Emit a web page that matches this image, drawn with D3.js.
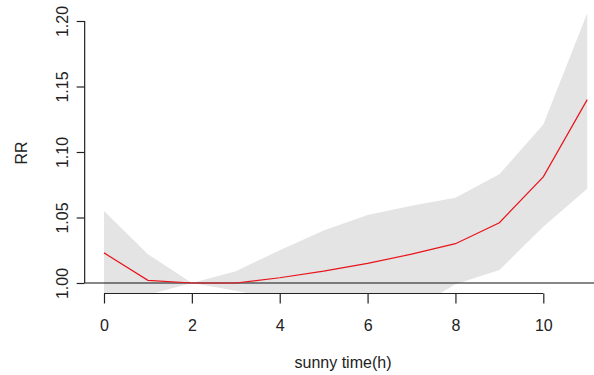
<!DOCTYPE html>
<html>
<head>
<meta charset="utf-8">
<script src="https://cdn.jsdelivr.net/npm/d3@7/dist/d3.min.js"></script>
<style>
  html, body { margin: 0; padding: 0; background: #fff; }
  svg { display: block; }
  text { font-family: "Liberation Sans", Arial, sans-serif; fill: #222; }
</style>
</head>
<body>
<svg id="chart" width="594" height="375"></svg>
<script>
// Sunshine hours vs relative risk, with 95% confidence band
const hours   = [0, 1, 2, 3, 4, 5, 6, 7, 8, 9, 10, 11];
const rr      = [1.023, 1.002, 1.000, 1.000, 1.004, 1.009, 1.015, 1.022, 1.030, 1.046, 1.081, 1.140];
const rrUpper = [1.055, 1.022, 1.000, 1.009, 1.025, 1.040, 1.052, 1.059, 1.065, 1.083, 1.121, 1.206];
const rrLower = [0.985, 0.991, 1.000, 0.994, 0.987, 0.982, 0.979, 0.979, 0.999, 1.010, 1.043, 1.072];
const xTicks  = [0, 2, 4, 6, 8, 10];
const yTicks  = [1.00, 1.05, 1.10, 1.15, 1.20];

const svg = d3.select("#chart");

// plotting region padded 4% beyond the data limits
const xPad = 11 * 0.04, yPad = 0.2 * 0.04;
const x = d3.scaleLinear().domain([0, 10]).range([104, 543.3]);
const y = d3.scaleLinear().domain([1.0, 1.2]).range([283, 21]);
const regL = x(-xPad), regR = x(11 + xPad), regT = y(1.2 + yPad), regB = y(1.0 - yPad);

svg.append("clipPath").attr("id", "plotclip")
  .append("rect").attr("x", regL).attr("y", regT)
  .attr("width", regR - regL).attr("height", regB - regT);

const plot = svg.append("g").attr("clip-path", "url(#plotclip)");

const pts = hours.map((h, i) => ({ h, v: rr[i], lo: rrLower[i], hi: rrUpper[i] }));

// confidence band
plot.append("path")
  .datum(pts)
  .attr("fill", "#e4e4e4")
  .attr("d", d3.area().x(d => x(d.h)).y0(d => y(d.lo)).y1(d => y(d.hi)));

// reference line at RR = 1
plot.append("line")
  .attr("x1", regL).attr("x2", regR)
  .attr("y1", y(1)).attr("y2", y(1))
  .attr("stroke", "#111").attr("stroke-width", 1.2);

// estimated RR curve
plot.append("path")
  .datum(pts)
  .attr("fill", "none")
  .attr("stroke", "#e8141c")
  .attr("stroke-width", 1.2)
  .attr("d", d3.line().x(d => x(d.h)).y(d => y(d.v)));

// x axis at the bottom of the region
const gx = svg.append("g")
  .attr("transform", `translate(0,${regB})`)
  .call(d3.axisBottom(x).tickValues(xTicks).tickFormat(d3.format("d")).tickSize(10).tickSizeOuter(0));
gx.select(".domain").attr("d", `M${x(0)},0H${x(10)}`).attr("stroke", "#222").attr("stroke-width", 1.2);
gx.selectAll(".tick line").attr("stroke", "#222").attr("stroke-width", 1.2);
gx.selectAll(".tick text")
  .attr("y", 0).attr("dy", null)
  .attr("transform", "translate(0,38)")
  .style("font-size", "16px")
  .style("font-family", "'Liberation Sans', Arial, sans-serif")
  .attr("fill", "#222");

// y axis at the left of the region, labels rotated
const gy = svg.append("g")
  .attr("transform", `translate(${regL},0)`)
  .call(d3.axisLeft(y).tickValues(yTicks).tickFormat(d3.format(".2f")).tickSize(8).tickSizeOuter(0));
gy.select(".domain").attr("d", `M0,${y(1.0)}V${y(1.2)}`).attr("stroke", "#222").attr("stroke-width", 1.2);
gy.selectAll(".tick line").attr("stroke", "#222").attr("stroke-width", 1.2);
gy.selectAll(".tick text")
  .attr("x", 0).attr("dy", null)
  .attr("text-anchor", "middle")
  .attr("transform", "translate(-17,0) rotate(-90)")
  .style("font-size", "16px")
  .style("font-family", "'Liberation Sans', Arial, sans-serif")
  .attr("fill", "#222");

// axis titles
svg.append("text")
  .attr("x", 343).attr("y", 368)
  .attr("text-anchor", "middle")
  .style("font-size", "16px")
  .text("sunny time(h)");

svg.append("text")
  .attr("transform", `translate(27,153) rotate(-90)`)
  .attr("text-anchor", "middle")
  .style("font-size", "16px")
  .text("RR");
</script>
</body>
</html>
